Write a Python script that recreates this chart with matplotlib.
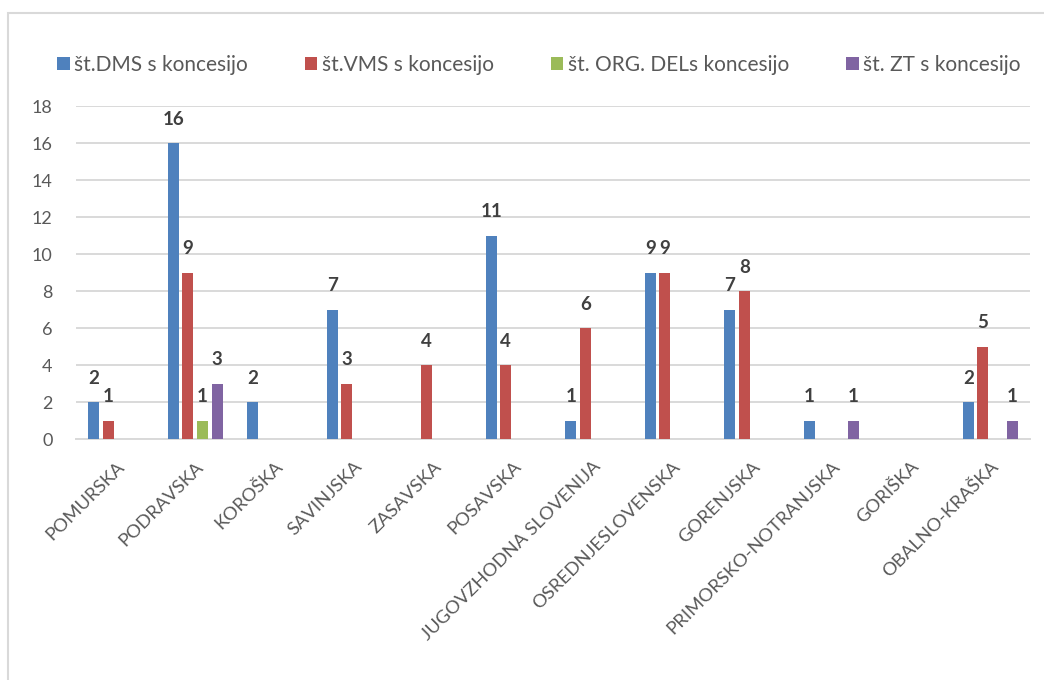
import numpy as np
import matplotlib
matplotlib.use("Agg")
import matplotlib.pyplot as plt
from matplotlib.patches import Rectangle, Patch

# podatki (regije in stevilo koncesij)
regije = ["POMURSKA", "PODRAVSKA", "KOROŠKA", "SAVINJSKA", "ZASAVSKA", "POSAVSKA",
          "JUGOVZHODNA SLOVENIJA", "OSREDNJESLOVENSKA", "GORENJSKA",
          "PRIMORSKO-NOTRANJSKA", "GORIŠKA", "OBALNO-KRAŠKA"]
dms = [2, 16, 2, 7, 0, 11, 1, 9, 7, 1, 0, 2]
vms = [1, 9, 0, 3, 4, 4, 6, 9, 8, 0, 0, 5]
org_del = [0, 1, 0, 0, 0, 0, 0, 0, 0, 0, 0, 0]
zt = [0, 3, 0, 0, 0, 0, 0, 0, 0, 1, 0, 1]

serije = ["št.DMS s koncesijo", "št.VMS s koncesijo", "št. ORG. DELs koncesijo", "št. ZT s koncesijo"]
barve = ["#4F81BD", "#C0504D", "#9BBB59", "#8064A2"]
y_ticks = [0, 2, 4, 6, 8, 10, 12, 14, 16, 18]

plt.rcParams['font.family'] = ['Lato', 'DejaVu Sans']

fig = plt.figure(figsize=(10.44, 6.8), dpi=100)
ax = fig.add_axes([76/1044, 1 - 439/680, (1030-76)/1044, (439-106)/680])

x = np.arange(len(regije))
korak = 0.185
sirina = 0.14
vse = [dms, vms, org_del, zt]
for i in range(4):
    pos = x + (i - 1.5)*korak
    vals = np.array(vse[i])
    ax.bar(pos, vals, width=sirina, color=barve[i], zorder=3)
    for p, v in zip(pos, vals):
        if v > 0:
            ax.annotate(str(v), (p, v), xytext=(0, 11), textcoords="offset points",
                        ha="center", va="bottom", fontsize=13.5, fontweight="bold",
                        color="#404040", zorder=4)

ax.set_xlim(-0.5, len(regije) - 0.5)
ax.set_ylim(0, 18)
ax.set_yticks(y_ticks)
ax.yaxis.grid(True, color="#D9D9D9", linewidth=1.4, zorder=0)
for s in ["top", "right", "left"]:
    ax.spines[s].set_visible(False)
ax.spines["bottom"].set_color("#D9D9D9")
ax.spines["bottom"].set_linewidth(1.4)
ax.tick_params(axis="y", length=0, pad=17, labelsize=13, labelcolor="#595959")
ax.tick_params(axis="x", length=0, pad=14, labelsize=13.3, labelcolor="#595959")
ax.set_xticks(x)
ax.set_xticklabels(regije, rotation=45, ha="right", va="top", rotation_mode="anchor")

# legenda
handles = [Patch(facecolor=barve[i], label=serije[i]) for i in range(4)]
fig.legend(handles=handles, loc="center", bbox_to_anchor=(0.516, 1 - 65/680), ncol=4,
           frameon=False, fontsize=15, labelcolor="#595959", handlelength=0.6,
           handleheight=0.6, handletextpad=0.2, columnspacing=2.75)

# okvir grafikona
fig.patches.append(Rectangle((8/1044, -0.05), 1.1, 1 - 13/680 + 0.05, transform=fig.transFigure,
                             fill=False, edgecolor="#D9D9D9", linewidth=1.5))

fig.savefig("out.png", dpi=100)
